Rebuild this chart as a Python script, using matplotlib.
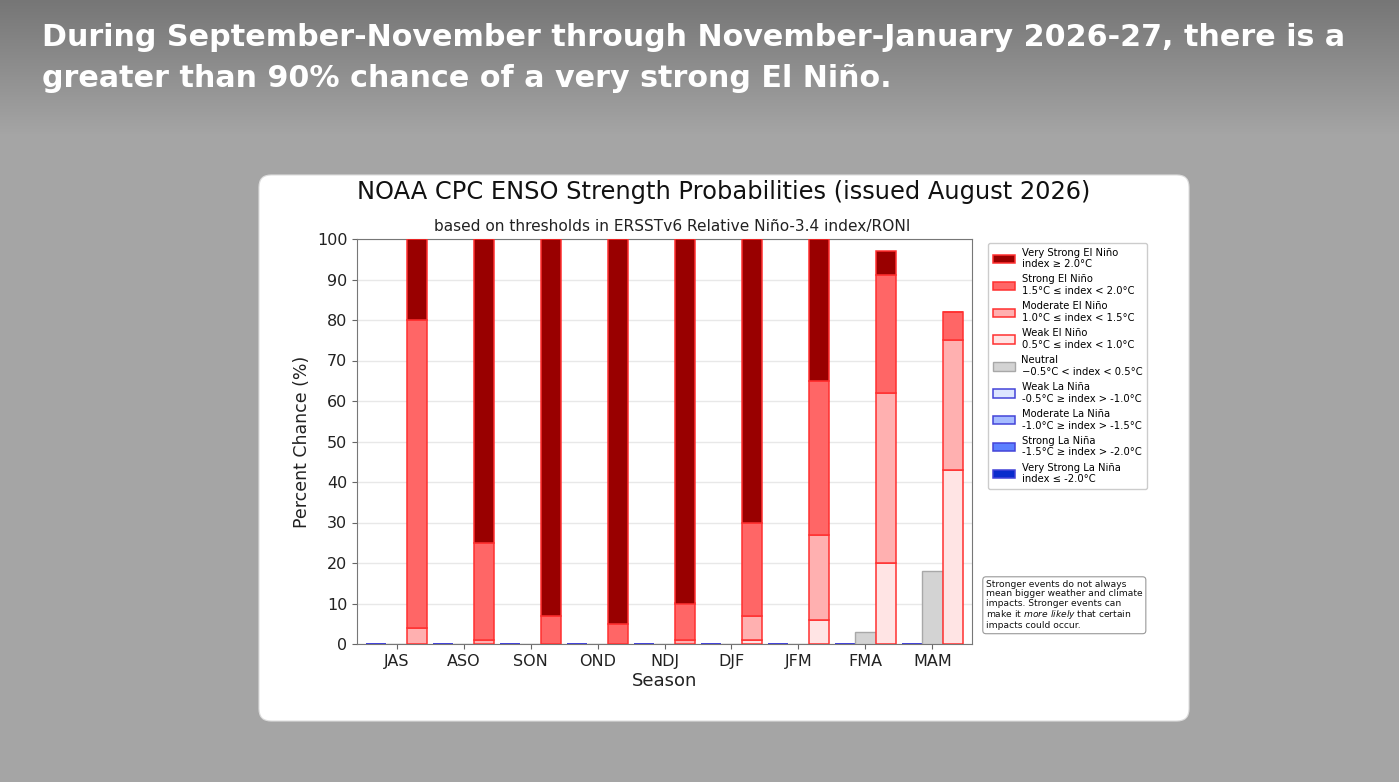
import numpy as np
import matplotlib
matplotlib.use("Agg")
import matplotlib.pyplot as plt
from matplotlib.patches import FancyBboxPatch, Patch

# ---------------- data ----------------
seasons = ['JAS', 'ASO', 'SON', 'OND', 'NDJ', 'DJF', 'JFM', 'FMA', 'MAM']
very_strong_la = [0, 0, 0, 0, 0, 0, 0, 0, 0]
strong_la = [0, 0, 0, 0, 0, 0, 0, 0, 0]
moderate_la = [0, 0, 0, 0, 0, 0, 0, 0, 0]
weak_la = [0, 0, 0, 0, 0, 0, 0, 0, 0]
neutral = [0, 0, 0, 0, 0, 0, 0, 3, 18]
weak_el = [0, 0, 0, 0, 0, 1, 6, 20, 43]
moderate_el = [4, 1, 0, 0, 1, 6, 21, 42, 32]
strong_el = [76, 24, 7, 5, 9, 23, 38, 29, 7]
very_strong_el = [20, 75, 93, 95, 90, 70, 35, 6, 0]

headline = ("During September-November through November-January 2026-27, there is a\n"
            "greater than 90% chance of a very strong El Niño.")
chart_title = "NOAA CPC ENSO Strength Probabilities (issued August 2026)"
subtitle = "based on thresholds in ERSSTv6 Relative Niño-3.4 index/RONI"

el_labels = ["Very Strong El Niño\nindex ≥ 2.0°C",
             "Strong El Niño\n1.5°C ≤ index < 2.0°C",
             "Moderate El Niño\n1.0°C ≤ index < 1.5°C",
             "Weak El Niño\n0.5°C ≤ index < 1.0°C"]
neutral_label = "Neutral\n\u22120.5°C < index < 0.5°C"
la_labels = ["Weak La Niña\n-0.5°C ≥ index > -1.0°C",
             "Moderate La Niña\n-1.0°C ≥ index > -1.5°C",
             "Strong La Niña\n-1.5°C ≥ index > -2.0°C",
             "Very Strong La Niña\nindex ≤ -2.0°C"]
note = ("Stronger events do not always\nmean bigger weather and climate\n"
        "impacts. Stronger events can\nmake it $\\it{more\\ likely}$ that certain\n"
        "impacts could occur.")

# ---------------- styles ----------------
W, H = 1399, 782
fig = plt.figure(figsize=(W / 100, H / 100), dpi=100)

# background gradient + white panel
bg = fig.add_axes([0, 0, 1, 1])
bg.set_xlim(0, W)
bg.set_ylim(H, 0)
bg.axis('off')
grad = np.concatenate([np.linspace(0x76, 0xa5, 135), np.full(H - 135, 0xa5)]) / 255.0
img = np.repeat(grad[:, None], 2, axis=1)
img = np.dstack([img, img, img])
bg.imshow(img, extent=(0, W, H, 0), aspect='auto', zorder=0)
panel = FancyBboxPatch((259 + 12, 175 + 12), 930 - 24, 546 - 24,
                       boxstyle="round,pad=12", facecolor='white',
                       edgecolor='#dddddd', linewidth=0.8, zorder=1)
bg.add_patch(panel)
lines = headline.split("\n")
bg.text(42, 46, lines[0], color='white', fontsize=21.7, fontweight='bold',
        family='DejaVu Sans', va='baseline', ha='left', zorder=2)
bg.text(42, 87, lines[1], color='white', fontsize=21.7, fontweight='bold',
        family='DejaVu Sans', va='baseline', ha='left', zorder=2)

# main axes
ax = fig.add_axes([357 / W, 1 - 644 / H, (972 - 357) / W, (644 - 239) / H])
x = np.arange(len(seasons))
bw = 0.3

edge_el = '#ff3030'
edge_la = '#4444d8'
el_colors = ['#990000', '#ff6666', '#ffb0b0', '#ffe4e4']
la_colors = ['#dde6ff', '#a6bcff', '#5c80ff', '#0a2ccc']
neutral_color = '#d3d3d3'

# La Niña stack (left)
bottom = np.zeros(len(seasons))
for vals, col in zip([weak_la, moderate_la, strong_la, very_strong_la], la_colors):
    ax.bar(x - bw, vals, bw, bottom=bottom, color=col, edgecolor=edge_la,
           linewidth=1.2, zorder=3)
    bottom += np.array(vals)

# Neutral (center)
ax.bar(x, neutral, bw, color=neutral_color, edgecolor='#a8a8a8', linewidth=1, zorder=3)

# El Niño stack (right)
bottom = np.zeros(len(seasons))
for vals, col in zip([weak_el, moderate_el, strong_el, very_strong_el], el_colors[::-1]):
    ax.bar(x + bw, vals, bw, bottom=bottom, color=col, edgecolor=edge_el,
           linewidth=1.1, zorder=3)
    bottom += np.array(vals)

ax.set_xlim(-0.59, len(seasons) - 1 + 0.59)
ax.set_ylim(0, 100)
ax.set_yticks(np.arange(0, 101, 10))
ax.set_xticks(x)
ax.set_xticklabels(seasons)
ax.tick_params(labelsize=11.5, color='#666666', labelcolor='#222222')
ax.grid(axis='y', color='#e8e8e8', linewidth=1, zorder=0)
ax.set_axisbelow(True)
for s in ax.spines.values():
    s.set_color('#777777')
ax.set_xlabel("Season", fontsize=13, color='#222222', labelpad=2)
ax.set_ylabel("Percent Chance (%)", fontsize=12.5, color='#222222', labelpad=4)
fig.text(672 / W, 1 - 227 / H, subtitle, fontsize=11.1, ha='center', va='center', color='#222222')
fig.text(724 / W, 1 - 192 / H, chart_title, fontsize=17.4, ha='center', va='center', color='#111111')

# legend
handles = [Patch(facecolor=c, edgecolor=edge_el, linewidth=1.1) for c in el_colors]
handles.append(Patch(facecolor=neutral_color, edgecolor='#a8a8a8', linewidth=1))
handles += [Patch(facecolor=c, edgecolor=edge_la, linewidth=1.1) for c in la_colors]
labels = el_labels + [neutral_label] + la_labels
leg = fig.legend(handles, labels, loc='upper left',
                 bbox_to_anchor=(988 / W, 1 - 243 / H), bbox_transform=fig.transFigure,
                 fontsize=7.2, handlelength=2.2, handleheight=0.9, labelspacing=0.53,
                 borderaxespad=0, borderpad=0.45, handletextpad=0.7, framealpha=1,
                 edgecolor='#cccccc', fancybox=True)

fig.text(986 / W, 1 - 580 / H, note, fontsize=6.6, ha='left', va='top', color='#111111',
         linespacing=1.05,
         bbox=dict(boxstyle='round,pad=0.35', facecolor='white', edgecolor='#999999', linewidth=0.8))

fig.savefig("out.png", dpi=100)
